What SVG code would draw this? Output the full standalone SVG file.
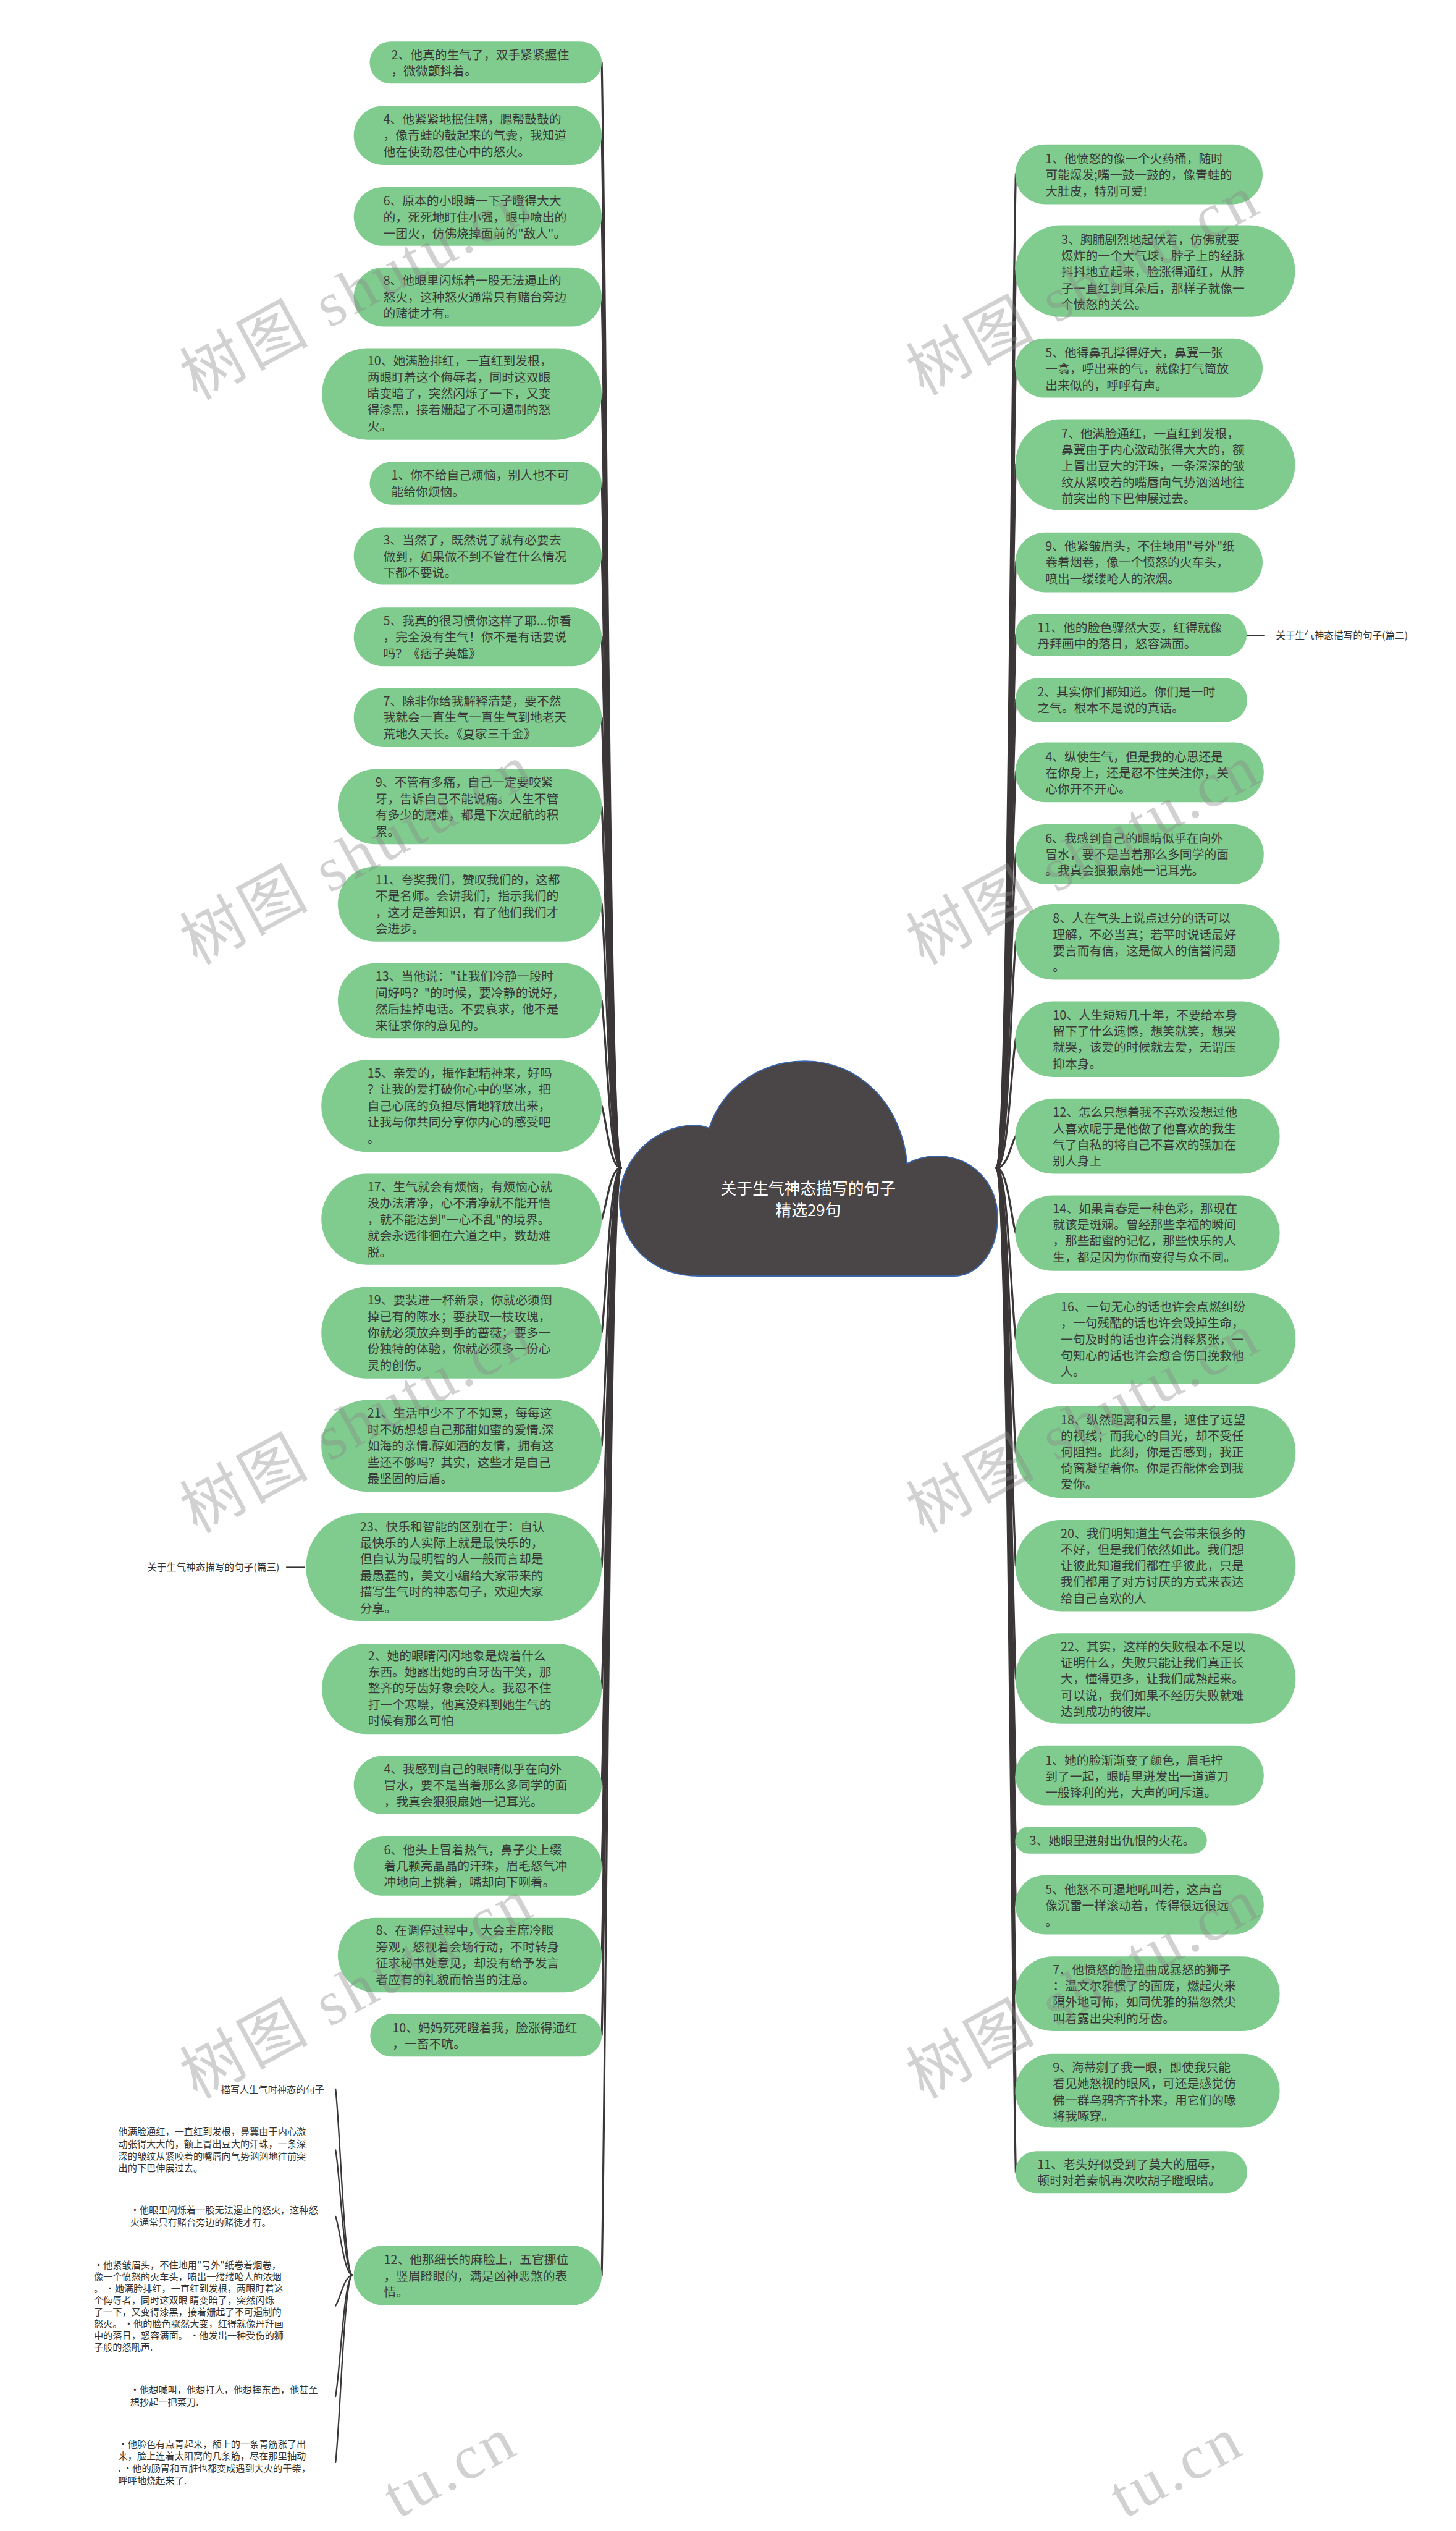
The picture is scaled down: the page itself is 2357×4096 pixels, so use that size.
<svg xmlns="http://www.w3.org/2000/svg" width="2357" height="4096" viewBox="0 0 2357 4096">
<style>
.n{fill:#80cc8e}
.t{font-family:"Noto Sans CJK SC","Noto Sans",sans-serif;font-size:21.5px;fill:#3a3a3a}
.s{font-family:"Noto Sans CJK SC","Noto Sans",sans-serif;font-size:16.5px;fill:#333}
.lb{font-family:"Noto Sans CJK SC","Noto Sans",sans-serif;font-size:17px;fill:#333}
.c{fill:none;stroke:#3b3637;stroke-width:3.5;stroke-linecap:round}
.k{fill:none;stroke:#333;stroke-width:2.5}
.w{font-family:"Liberation Serif","Noto Sans CJK SC",serif;font-size:110px;fill:#888;opacity:.38;letter-spacing:6px}
</style>
<rect width="2357" height="4096" fill="#ffffff"/>
<g transform="scale(0.9207)">
<g id="connectors">
<path class="c" d="M1092,2053 C1072,2053 1066,499 1058,110"/>
<path class="c" d="M1092,2053 C1072,2053 1066,601 1058,238"/>
<path class="c" d="M1092,2053 C1072,2053 1066,715 1058,380"/>
<path class="c" d="M1092,2053 C1072,2053 1066,828 1058,522"/>
<path class="c" d="M1092,2053 C1072,2053 1066,965 1058,692"/>
<path class="c" d="M1092,2053 C1072,2053 1066,1090 1058,849"/>
<path class="c" d="M1092,2053 C1072,2053 1066,1192 1058,977"/>
<path class="c" d="M1092,2053 C1072,2053 1066,1306 1058,1119"/>
<path class="c" d="M1092,2053 C1072,2053 1066,1419 1058,1261"/>
<path class="c" d="M1092,2053 C1072,2053 1066,1545 1058,1418"/>
<path class="c" d="M1092,2053 C1072,2053 1066,1682 1058,1589"/>
<path class="c" d="M1092,2053 C1072,2053 1066,1818 1058,1759"/>
<path class="c" d="M1092,2053 C1072,2053 1066,1966 1058,1944"/>
<path class="c" d="M1092,2053 C1072,2053 1066,2125 1058,2143"/>
<path class="c" d="M1092,2053 C1072,2053 1066,2285 1058,2342"/>
<path class="c" d="M1092,2053 C1072,2053 1066,2444 1058,2541"/>
<path class="c" d="M1092,2053 C1072,2053 1066,2614 1058,2754"/>
<path class="c" d="M1092,2053 C1072,2053 1066,2785 1058,2968"/>
<path class="c" d="M1092,2053 C1072,2053 1066,2921 1058,3137"/>
<path class="c" d="M1092,2053 C1072,2053 1066,3035 1058,3280"/>
<path class="c" d="M1092,2053 C1072,2053 1066,3160 1058,3436"/>
<path class="c" d="M1092,2053 C1072,2053 1066,3273 1058,3577"/>
<path class="c" d="M1092,2053 C1072,2053 1066,3610 1058,3999"/>
<path class="c" d="M1752,2053 C1772,2053 1778,656 1786,306"/>
<path class="c" d="M1752,2053 C1772,2053 1778,792 1786,476"/>
<path class="c" d="M1752,2053 C1772,2053 1778,928 1786,647"/>
<path class="c" d="M1752,2053 C1772,2053 1778,1064 1786,817"/>
<path class="c" d="M1752,2053 C1772,2053 1778,1201 1786,988"/>
<path class="c" d="M1752,2053 C1772,2053 1778,1303 1786,1116"/>
<path class="c" d="M1752,2053 C1772,2053 1778,1395 1786,1230"/>
<path class="c" d="M1752,2053 C1772,2053 1778,1497 1786,1357"/>
<path class="c" d="M1752,2053 C1772,2053 1778,1612 1786,1501"/>
<path class="c" d="M1752,2053 C1772,2053 1778,1735 1786,1655"/>
<path class="c" d="M1752,2053 C1772,2053 1778,1872 1786,1826"/>
<path class="c" d="M1752,2053 C1772,2053 1778,2008 1786,1997"/>
<path class="c" d="M1752,2053 C1772,2053 1778,2145 1786,2167"/>
<path class="c" d="M1752,2053 C1772,2053 1778,2293 1786,2353"/>
<path class="c" d="M1752,2053 C1772,2053 1778,2453 1786,2552"/>
<path class="c" d="M1752,2053 C1772,2053 1778,2612 1786,2752"/>
<path class="c" d="M1752,2053 C1772,2053 1778,2771 1786,2950"/>
<path class="c" d="M1752,2053 C1772,2053 1778,2907 1786,3120"/>
<path class="c" d="M1752,2053 C1772,2053 1778,2998 1786,3234"/>
<path class="c" d="M1752,2053 C1772,2053 1778,3089 1786,3348"/>
<path class="c" d="M1752,2053 C1772,2053 1778,3214 1786,3504"/>
<path class="c" d="M1752,2053 C1772,2053 1778,3351 1786,3675"/>
<path class="c" d="M1752,2053 C1772,2053 1778,3465 1786,3818"/>
<path class="c" style="stroke-width:2.5" d="M620,3999 C605,3999 598,3737 590,3672"/>
<path class="c" style="stroke-width:2.5" d="M620,3999 C605,3999 598,3823 590,3779"/>
<path class="c" style="stroke-width:2.5" d="M620,3999 C605,3999 598,3917 590,3896"/>
<path class="c" style="stroke-width:2.5" d="M620,3999 C605,3999 598,4042 590,4053"/>
<path class="c" style="stroke-width:2.5" d="M620,3999 C605,3999 598,4169 590,4212"/>
<path class="c" style="stroke-width:2.5" d="M620,3999 C605,3999 598,4262 590,4328"/>
<path class="k" d="M503,2755 H536"/>
<path class="k" d="M2192,1117 H2223"/>
</g>
<g id="root">
<path d="M1230,2243 C1140,2243 1089,2180 1089,2110 C1089,2040 1150,1978 1220,1978 C1232,1978 1240,1980 1247,1983 C1270,1910 1340,1865 1415,1865 C1510,1865 1585,1940 1595,2045 C1612,2036 1630,2032 1647,2032 C1710,2032 1754,2080 1754,2140 C1754,2200 1720,2243 1676,2243 Z" fill="#4a4546" stroke="#3a66b0" stroke-width="2"/>
<text font-family="Noto Sans CJK SC, sans-serif" font-size="28" fill="#ffffff" text-anchor="middle"><tspan x="1421" y="2100">关于生气神态描写的句子</tspan><tspan x="1421" y="2137">精选29句</tspan></text>
</g>
<g id="label-p3"><text class="lb" x="259" y="2761">关于生气神态描写的句子(篇三)</text></g>
<g id="label-p2"><text class="lb" x="2243" y="1123">关于生气神态描写的句子(篇二)</text></g>
<g id="label-sub"><text class="s" x="570" y="3679" text-anchor="end">描写人生气时神态的句子</text></g>
<g id="sub1"><text class="s"><tspan x="208" y="3753">他满脸通红，一直红到发根，鼻翼由于内心激</tspan><tspan x="208" dy="21.3">动张得大大的，额上冒出豆大的汗珠，一条深</tspan><tspan x="208" dy="21.3">深的皱纹从紧咬着的嘴唇向气势汹汹地往前突</tspan><tspan x="208" dy="21.3">出的下巴伸展过去。</tspan></text></g>
<g id="sub2"><text class="s"><tspan x="229" y="3891">·他眼里闪烁着一股无法遏止的怒火，这种怒</tspan><tspan x="229" dy="21.3">火通常只有赌台旁边的赌徒才有。</tspan></text></g>
<g id="sub3"><text class="s"><tspan x="165" y="3987">·他紧皱眉头，不住地用"号外"纸卷着烟卷，</tspan><tspan x="165" dy="20.6">像一个愤怒的火车头，喷出一缕缕呛人的浓烟</tspan><tspan x="165" dy="20.6">。 ·她满脸排红，一直红到发根，两眼盯着这</tspan><tspan x="165" dy="20.6">个侮辱者，同时这双眼 睛变暗了，突然闪烁</tspan><tspan x="165" dy="20.6">了一下，又变得漆黑，接着姗起了不可遏制的</tspan><tspan x="165" dy="20.6">怒火。 ·他的脸色骤然大变，红得就像丹拜画</tspan><tspan x="165" dy="20.6">中的落日，怒容满面。 ·他发出一种受伤的狮</tspan><tspan x="165" dy="20.6">子般的怒吼声.</tspan></text></g>
<g id="sub4"><text class="s"><tspan x="229" y="4207">·他想喊叫，他想打人，他想摔东西，他甚至</tspan><tspan x="229" dy="21.3">想抄起一把菜刀.</tspan></text></g>
<g id="sub5"><text class="s"><tspan x="208" y="4302">·他脸色有点青起来，额上的一条青筋涨了出</tspan><tspan x="208" dy="21.3">来，脸上连着太阳窝的几条筋，尽在那里抽动</tspan><tspan x="208" dy="21.3">. ·他的肠胃和五脏也都变成遇到大火的干柴，</tspan><tspan x="208" dy="21.3">呼呼地烧起来了.</tspan></text></g>

<g id="L2"><rect class="n" x="650" y="73" width="408" height="74" rx="37"/><text class="t"><tspan x="688" y="104">2、他真的生气了，双手紧紧握住</tspan><tspan x="688" dy="28.7">，微微颤抖着。</tspan></text></g>
<g id="L4"><rect class="n" x="622" y="186" width="436" height="104" rx="52"/><text class="t"><tspan x="674" y="217">4、他紧紧地抿住嘴，腮帮鼓鼓的</tspan><tspan x="674" dy="28.7">，像青蛙的鼓起来的气囊，我知道</tspan><tspan x="674" dy="28.7">他在使劲忍住心中的怒火。</tspan></text></g>
<g id="L6"><rect class="n" x="622" y="329" width="436" height="103" rx="51.5"/><text class="t"><tspan x="674" y="361">6、原本的小眼睛一下子瞪得大大</tspan><tspan x="674" dy="28.7">的，死死地盯住小强，眼中喷出的</tspan><tspan x="674" dy="28.7">一团火，仿佛烧掉面前的"敌人"。</tspan></text></g>
<g id="L8"><rect class="n" x="622" y="470" width="436" height="104" rx="52"/><text class="t"><tspan x="674" y="501">8、他眼里闪烁着一股无法遏止的</tspan><tspan x="674" dy="28.7">怒火，这种怒火通常只有赌台旁边</tspan><tspan x="674" dy="28.7">的赌徒才有。</tspan></text></g>
<g id="L10"><rect class="n" x="566" y="612" width="492" height="161" rx="80.5"/><text class="t"><tspan x="646" y="642">10、她满脸排红，一直红到发根，</tspan><tspan x="646" dy="28.7">两眼盯着这个侮辱者，同时这双眼</tspan><tspan x="646" dy="28.7">睛变暗了，突然闪烁了一下，又变</tspan><tspan x="646" dy="28.7">得漆黑，接着姗起了不可遏制的怒</tspan><tspan x="646" dy="28.7">火。</tspan></text></g>
<g id="L1"><rect class="n" x="650" y="812" width="408" height="75" rx="37.5"/><text class="t"><tspan x="688" y="843">1、你不给自己烦恼，别人也不可</tspan><tspan x="688" dy="28.7">能给你烦恼。</tspan></text></g>
<g id="L3"><rect class="n" x="622" y="927" width="436" height="100" rx="50"/><text class="t"><tspan x="674" y="957">3、当然了，既然说了就有必要去</tspan><tspan x="674" dy="28.7">做到，如果做不到不管在什么情况</tspan><tspan x="674" dy="28.7">下都不要说。</tspan></text></g>
<g id="L5"><rect class="n" x="622" y="1068" width="436" height="103" rx="51.5"/><text class="t"><tspan x="674" y="1099">5、我真的很习惯你这样了耶...你看</tspan><tspan x="674" dy="28.7">，完全没有生气！你不是有话要说</tspan><tspan x="674" dy="28.7">吗？《痞子英雄》</tspan></text></g>
<g id="L7"><rect class="n" x="622" y="1209" width="436" height="104" rx="52"/><text class="t"><tspan x="674" y="1240">7、除非你给我解释清楚，要不然</tspan><tspan x="674" dy="28.7">我就会一直生气一直生气到地老天</tspan><tspan x="674" dy="28.7">荒地久天长。《夏家三千金》</tspan></text></g>
<g id="L9"><rect class="n" x="594" y="1352" width="464" height="132" rx="66"/><text class="t"><tspan x="660" y="1383">9、不管有多痛，自己一定要咬紧</tspan><tspan x="660" dy="28.7">牙，告诉自己不能说痛。人生不管</tspan><tspan x="660" dy="28.7">有多少的磨难，都是下次起航的积</tspan><tspan x="660" dy="28.7">累。</tspan></text></g>
<g id="L11"><rect class="n" x="594" y="1523" width="464" height="132" rx="66"/><text class="t"><tspan x="660" y="1554">11、夸奖我们，赞叹我们的，这都</tspan><tspan x="660" dy="28.7">不是名师。会讲我们，指示我们的</tspan><tspan x="660" dy="28.7">，这才是善知识，有了他们我们才</tspan><tspan x="660" dy="28.7">会进步。</tspan></text></g>
<g id="L13"><rect class="n" x="594" y="1693" width="464" height="132" rx="66"/><text class="t"><tspan x="660" y="1724">13、当他说："让我们冷静一段时</tspan><tspan x="660" dy="28.7">间好吗？"的时候，要冷静的说好，</tspan><tspan x="660" dy="28.7">然后挂掉电话。不要哀求，他不是</tspan><tspan x="660" dy="28.7">来征求你的意见的。</tspan></text></g>
<g id="L15"><rect class="n" x="565" y="1863" width="493" height="162" rx="81"/><text class="t"><tspan x="646" y="1894">15、亲爱的，振作起精神来，好吗</tspan><tspan x="646" dy="28.7">？让我的爱打破你心中的坚冰，把</tspan><tspan x="646" dy="28.7">自己心底的负担尽情地释放出来，</tspan><tspan x="646" dy="28.7">让我与你共同分享你内心的感受吧</tspan><tspan x="646" dy="28.7">。</tspan></text></g>
<g id="L17"><rect class="n" x="565" y="2063" width="493" height="160" rx="80"/><text class="t"><tspan x="646" y="2094">17、生气就会有烦恼，有烦恼心就</tspan><tspan x="646" dy="28.7">没办法清净，心不清净就不能开悟</tspan><tspan x="646" dy="28.7">，就不能达到"一心不乱"的境界。</tspan><tspan x="646" dy="28.7">就会永远徘徊在六道之中，数劫难</tspan><tspan x="646" dy="28.7">脱。</tspan></text></g>
<g id="L19"><rect class="n" x="565" y="2262" width="493" height="161" rx="80.5"/><text class="t"><tspan x="646" y="2293">19、要装进一杯新泉，你就必须倒</tspan><tspan x="646" dy="28.7">掉已有的陈水；要获取一枝玫瑰，</tspan><tspan x="646" dy="28.7">你就必须放弃到手的蔷薇；要多一</tspan><tspan x="646" dy="28.7">份独特的体验，你就必须多一份心</tspan><tspan x="646" dy="28.7">灵的创伤。</tspan></text></g>
<g id="L21"><rect class="n" x="565" y="2461" width="493" height="161" rx="80.5"/><text class="t"><tspan x="646" y="2492">21、生活中少不了不如意，每每这</tspan><tspan x="646" dy="28.7">时不妨想想自己那甜如蜜的爱情.深</tspan><tspan x="646" dy="28.7">如海的亲情.醇如酒的友情，拥有这</tspan><tspan x="646" dy="28.7">些还不够吗？其实，这些才是自己</tspan><tspan x="646" dy="28.7">最坚固的后盾。</tspan></text></g>
<g id="L23"><rect class="n" x="538" y="2660" width="520" height="189" rx="94.5"/><text class="t"><tspan x="633" y="2691">23、快乐和智能的区别在于：自认</tspan><tspan x="633" dy="28.7">最快乐的人实际上就是最快乐的，</tspan><tspan x="633" dy="28.7">但自认为最明智的人一般而言却是</tspan><tspan x="633" dy="28.7">最愚蠢的，美文小编给大家带来的</tspan><tspan x="633" dy="28.7">描写生气时的神态句子，欢迎大家</tspan><tspan x="633" dy="28.7">分享。</tspan></text></g>
<g id="L2b"><rect class="n" x="566" y="2889" width="492" height="159" rx="79.5"/><text class="t"><tspan x="647" y="2918">2、她的眼睛闪闪地象是烧着什么</tspan><tspan x="647" dy="28.7">东西。她露出她的白牙齿干笑，那</tspan><tspan x="647" dy="28.7">整齐的牙齿好象会咬人。我忍不住</tspan><tspan x="647" dy="28.7">打一个寒噤，他真没料到她生气的</tspan><tspan x="647" dy="28.7">时候有那么可怕</tspan></text></g>
<g id="L4b"><rect class="n" x="622" y="3086" width="436" height="103" rx="51.5"/><text class="t"><tspan x="675" y="3117">4、我感到自己的眼睛似乎在向外</tspan><tspan x="675" dy="28.7">冒水，要不是当着那么多同学的面</tspan><tspan x="675" dy="28.7">，我真会狠狠扇她一记耳光。</tspan></text></g>
<g id="L6b"><rect class="n" x="622" y="3228" width="436" height="104" rx="52"/><text class="t"><tspan x="675" y="3259">6、他头上冒着热气，鼻子尖上缀</tspan><tspan x="675" dy="28.7">着几颗亮晶晶的汗珠，眉毛怒气冲</tspan><tspan x="675" dy="28.7">冲地向上挑着，嘴却向下咧着。</tspan></text></g>
<g id="L8b"><rect class="n" x="594" y="3371" width="464" height="131" rx="65.5"/><text class="t"><tspan x="661" y="3401">8、在调停过程中，大会主席冷眼</tspan><tspan x="661" dy="28.7">旁观，怒视着会场行动，不时转身</tspan><tspan x="661" dy="28.7">征求秘书处意见，却没有给予发言</tspan><tspan x="661" dy="28.7">者应有的礼貌而恰当的注意。</tspan></text></g>
<g id="L10b"><rect class="n" x="651" y="3540" width="407" height="75" rx="37.5"/><text class="t"><tspan x="690" y="3572">10、妈妈死死瞪着我，脸涨得通红</tspan><tspan x="690" dy="28.7">，一畜不吭。</tspan></text></g>
<g id="L12"><rect class="n" x="622" y="3947" width="436" height="105" rx="52.5"/><text class="t"><tspan x="675" y="3980">12、他那细长的麻脸上，五官挪位</tspan><tspan x="675" dy="28.7">，竖眉瞪眼的，满是凶神恶煞的表</tspan><tspan x="675" dy="28.7">情。</tspan></text></g>

<g id="R1"><rect class="n" x="1785" y="254" width="435" height="105" rx="52.5"/><text class="t"><tspan x="1838" y="287">1、他愤怒的像一个火药桶，随时</tspan><tspan x="1838" dy="28.5">可能爆发;嘴一鼓一鼓的，像青蛙的</tspan><tspan x="1838" dy="28.5">大肚皮，特别可爱!</tspan></text></g>
<g id="R3"><rect class="n" x="1785" y="396" width="492" height="161" rx="80.5"/><text class="t"><tspan x="1866" y="429">3、胸脯剧烈地起伏着，仿佛就要</tspan><tspan x="1866" dy="28.5">爆炸的一个大气球，脖子上的经脉</tspan><tspan x="1866" dy="28.5">抖抖地立起来，脸涨得通红，从脖</tspan><tspan x="1866" dy="28.5">子一直红到耳朵后，那样子就像一</tspan><tspan x="1866" dy="28.5">个愤怒的关公。</tspan></text></g>
<g id="R5"><rect class="n" x="1785" y="595" width="435" height="104" rx="52"/><text class="t"><tspan x="1838" y="628">5、他得鼻孔撑得好大，鼻翼一张</tspan><tspan x="1838" dy="28.5">一翕，呼出来的气，就像打气筒放</tspan><tspan x="1838" dy="28.5">出来似的，呼呼有声。</tspan></text></g>
<g id="R7"><rect class="n" x="1785" y="737" width="492" height="160" rx="80"/><text class="t"><tspan x="1866" y="770">7、他满脸通红，一直红到发根，</tspan><tspan x="1866" dy="28.5">鼻翼由于内心激动张得大大的，额</tspan><tspan x="1866" dy="28.5">上冒出豆大的汗珠，一条深深的皱</tspan><tspan x="1866" dy="28.5">纹从紧咬着的嘴唇向气势汹汹地往</tspan><tspan x="1866" dy="28.5">前突出的下巴伸展过去。</tspan></text></g>
<g id="R9"><rect class="n" x="1785" y="936" width="435" height="105" rx="52.5"/><text class="t"><tspan x="1838" y="968">9、他紧皱眉头，不住地用"号外"纸</tspan><tspan x="1838" dy="28.5">卷着烟卷，像一个愤怒的火车头，</tspan><tspan x="1838" dy="28.5">喷出一缕缕呛人的浓烟。</tspan></text></g>
<g id="R11"><rect class="n" x="1785" y="1079" width="407" height="74" rx="37"/><text class="t"><tspan x="1824" y="1111">11、他的脸色骤然大变，红得就像</tspan><tspan x="1824" dy="28.5">丹拜画中的落日，怒容满面。</tspan></text></g>
<g id="R2"><rect class="n" x="1785" y="1192" width="408" height="77" rx="38.5"/><text class="t"><tspan x="1824" y="1224">2、其实你们都知道。你们是一时</tspan><tspan x="1824" dy="28.5">之气。根本不是说的真话。</tspan></text></g>
<g id="R4"><rect class="n" x="1785" y="1305" width="437" height="105" rx="52.5"/><text class="t"><tspan x="1838" y="1338">4、纵使生气，但是我的心思还是</tspan><tspan x="1838" dy="28.5">在你身上，还是忍不住关注你，关</tspan><tspan x="1838" dy="28.5">心你开不开心。</tspan></text></g>
<g id="R6"><rect class="n" x="1785" y="1449" width="437" height="105" rx="52.5"/><text class="t"><tspan x="1838" y="1481">6、我感到自己的眼睛似乎在向外</tspan><tspan x="1838" dy="28.5">冒水，要不是当着那么多同学的面</tspan><tspan x="1838" dy="28.5">。我真会狠狠扇她一记耳光。</tspan></text></g>
<g id="R8"><rect class="n" x="1785" y="1589" width="465" height="133" rx="66.5"/><text class="t"><tspan x="1851" y="1622">8、人在气头上说点过分的话可以</tspan><tspan x="1851" dy="28.5">理解，不必当真；若平时说话最好</tspan><tspan x="1851" dy="28.5">要言而有信，这是做人的信誉问题</tspan><tspan x="1851" dy="28.5">。</tspan></text></g>
<g id="R10"><rect class="n" x="1785" y="1760" width="465" height="133" rx="66.5"/><text class="t"><tspan x="1851" y="1792">10、人生短短几十年，不要给本身</tspan><tspan x="1851" dy="28.5">留下了什么遗憾，想笑就笑，想哭</tspan><tspan x="1851" dy="28.5">就哭，该爱的时候就去爱，无谓压</tspan><tspan x="1851" dy="28.5">抑本身。</tspan></text></g>
<g id="R12"><rect class="n" x="1785" y="1931" width="465" height="132" rx="66"/><text class="t"><tspan x="1851" y="1963">12、怎么只想着我不喜欢没想过他</tspan><tspan x="1851" dy="28.5">人喜欢呢于是他做了他喜欢的我生</tspan><tspan x="1851" dy="28.5">气了自私的将自己不喜欢的强加在</tspan><tspan x="1851" dy="28.5">别人身上</tspan></text></g>
<g id="R14"><rect class="n" x="1785" y="2101" width="465" height="133" rx="66.5"/><text class="t"><tspan x="1851" y="2132">14、如果青春是一种色彩，那现在</tspan><tspan x="1851" dy="28.5">就该是斑斓。曾经那些幸福的瞬间</tspan><tspan x="1851" dy="28.5">，那些甜蜜的记忆，那些快乐的人</tspan><tspan x="1851" dy="28.5">生，都是因为你而变得与众不同。</tspan></text></g>
<g id="R16"><rect class="n" x="1785" y="2273" width="493" height="160" rx="80"/><text class="t"><tspan x="1865" y="2305">16、一句无心的话也许会点燃纠纷</tspan><tspan x="1865" dy="28.5">，一句残酷的话也许会毁掉生命，</tspan><tspan x="1865" dy="28.5">一句及时的话也许会消释紧张，一</tspan><tspan x="1865" dy="28.5">句知心的话也许会愈合伤口挽救他</tspan><tspan x="1865" dy="28.5">人。</tspan></text></g>
<g id="R18"><rect class="n" x="1785" y="2472" width="493" height="161" rx="80.5"/><text class="t"><tspan x="1865" y="2503">18、纵然距离和云星，遮住了远望</tspan><tspan x="1865" dy="28.5">的视线；而我心的目光，却不受任</tspan><tspan x="1865" dy="28.5">何阻挡。此刻，你是否感到，我正</tspan><tspan x="1865" dy="28.5">倚窗凝望着你。你是否能体会到我</tspan><tspan x="1865" dy="28.5">爱你。</tspan></text></g>
<g id="R20"><rect class="n" x="1785" y="2672" width="493" height="160" rx="80"/><text class="t"><tspan x="1865" y="2703">20、我们明知道生气会带来很多的</tspan><tspan x="1865" dy="28.5">不好，但是我们依然如此。我们想</tspan><tspan x="1865" dy="28.5">让彼此知道我们都在乎彼此，只是</tspan><tspan x="1865" dy="28.5">我们都用了对方讨厌的方式来表达</tspan><tspan x="1865" dy="28.5">给自己喜欢的人</tspan></text></g>
<g id="R22"><rect class="n" x="1785" y="2871" width="493" height="159" rx="79.5"/><text class="t"><tspan x="1865" y="2902">22、其实，这样的失败根本不足以</tspan><tspan x="1865" dy="28.5">证明什么，失败只能让我们真正长</tspan><tspan x="1865" dy="28.5">大，懂得更多，让我们成熟起来。</tspan><tspan x="1865" dy="28.5">可以说，我们如果不经历失败就难</tspan><tspan x="1865" dy="28.5">达到成功的彼岸。</tspan></text></g>
<g id="R1b"><rect class="n" x="1785" y="3068" width="437" height="105" rx="52.5"/><text class="t"><tspan x="1838" y="3102">1、她的脸渐渐变了颜色，眉毛拧</tspan><tspan x="1838" dy="28.5">到了一起，眼睛里迸发出一道道刀</tspan><tspan x="1838" dy="28.5">一般锋利的光，大声的呵斥道。</tspan></text></g>
<g id="R3b"><rect class="n" x="1785" y="3211" width="337" height="47" rx="23.5"/><text class="t"><tspan x="1810" y="3243">3、她眼里迸射出仇恨的火花。</tspan></text></g>
<g id="R5b"><rect class="n" x="1785" y="3296" width="437" height="104" rx="52"/><text class="t"><tspan x="1838" y="3329">5、他怒不可遏地吼叫着，这声音</tspan><tspan x="1838" dy="28.5">像沉雷一样滚动着，传得很远很远</tspan><tspan x="1838" dy="28.5">。</tspan></text></g>
<g id="R7b"><rect class="n" x="1785" y="3439" width="465" height="131" rx="65.5"/><text class="t"><tspan x="1851" y="3470">7、他愤怒的脸扭曲成暴怒的狮子</tspan><tspan x="1851" dy="28.5">：温文尔雅惯了的面庞，燃起火来</tspan><tspan x="1851" dy="28.5">隔外地可怖，如同优雅的猫忽然尖</tspan><tspan x="1851" dy="28.5">叫着露出尖利的牙齿。</tspan></text></g>
<g id="R9b"><rect class="n" x="1785" y="3610" width="465" height="130" rx="65"/><text class="t"><tspan x="1851" y="3642">9、海蒂剜了我一眼，即使我只能</tspan><tspan x="1851" dy="28.5">看见她怒视的眼风，可还是感觉仿</tspan><tspan x="1851" dy="28.5">佛一群乌鸦齐齐扑来，用它们的喙</tspan><tspan x="1851" dy="28.5">将我啄穿。</tspan></text></g>
<g id="R11b"><rect class="n" x="1785" y="3781" width="408" height="74" rx="37"/><text class="t"><tspan x="1824" y="3812">11、老头好似受到了莫大的屈辱，</tspan><tspan x="1824" dy="28.5">顿时对着秦帆再次吹胡子瞪眼睛。</tspan></text></g>

<g id="watermarks">
<text class="w" transform="translate(346,704) rotate(-28.5)">树图 shutu.cn</text>
<text class="w" transform="translate(1623,696) rotate(-28.5)">树图 shutu.cn</text>
<text class="w" transform="translate(346,1697) rotate(-28.5)">树图 shutu.cn</text>
<text class="w" transform="translate(1623,1697) rotate(-28.5)">树图 shutu.cn</text>
<text class="w" transform="translate(346,2696) rotate(-28.5)">树图 shutu.cn</text>
<text class="w" transform="translate(1623,2696) rotate(-28.5)">树图 shutu.cn</text>
<text class="w" transform="translate(346,3690) rotate(-28.5)">树图 shutu.cn</text>
<text class="w" transform="translate(1623,3690) rotate(-28.5)">树图 shutu.cn</text>
<text class="w" transform="translate(700,4428) rotate(-28.5)">tu.cn</text>
<text class="w" transform="translate(1977,4428) rotate(-28.5)">tu.cn</text>
</g>
</g>
</svg>
